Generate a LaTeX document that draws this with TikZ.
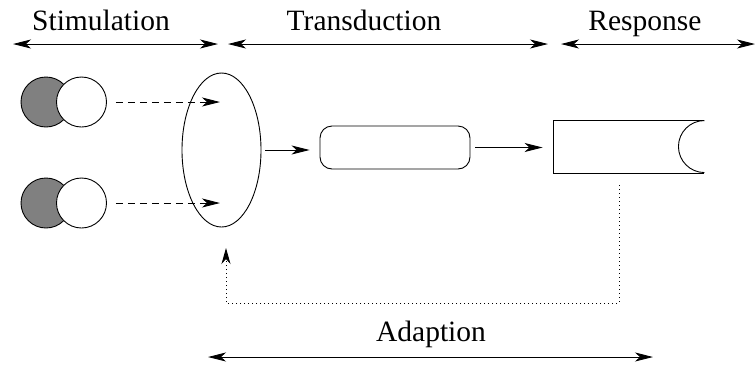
\documentclass[tikz,border=0pt]{standalone}
\usepackage{fontspec}
\setmainfont{Liberation Serif}
\newfontfamily\headfont{Liberation Serif}
\usetikzlibrary{shapes.geometric,arrows.meta}
\begin{document}
\begin{tikzpicture}[x=1pt,y=-1pt,
  line width=0.9pt,
  head/.style={Stealth[length=18pt,width=9pt,inset=5pt]},
  span/.style={{Stealth[length=18pt,width=9pt,inset=5pt]}-{Stealth[length=18pt,width=9pt,inset=5pt]}},
  label/.style={font=\headfont\fontsize{29.5}{34}\selectfont,anchor=base,inner sep=0pt},
  ball/.style={circle,draw,minimum size=50pt,inner sep=0pt},
  feed/.style={dash pattern=on 7pt off 5pt,-{Stealth[length=18pt,width=9pt,inset=5pt]}},
  flow/.style={-{Stealth[length=18pt,width=9pt,inset=5pt]}},
  loop/.style={dash pattern=on 1pt off 3pt,-{Stealth[length=16pt,width=9pt,inset=5pt]}}]
\useasboundingbox (0,0) rectangle (756,365);

% section headings with their spans
\node[label] (tstim) at (101,30) {Stimulation};
\node[label] (ttrans) at (364,30) {Transduction};
\node[label] (tresp) at (645,30) {Response};
\node[label] (tadapt) at (431,341) {Adaption};

\coordinate (s1) at (13,44);   \coordinate (s2) at (218,44);
\coordinate (t1) at (228,44);  \coordinate (t2) at (548,44);
\coordinate (r1) at (561,44);  \coordinate (r2) at (755,44);
\coordinate (a1) at (208,357); \coordinate (a2) at (653,357);
\draw[span] (s1) -- (s2);
\draw[span] (t1) -- (t2);
\draw[span] (r1) -- (r2);
\draw[span] (a1) -- (a2);

% stimulus pairs
\node[ball,fill=gray] (g1) at (46,102) {};
\node[ball,fill=white] (w1) at (81.5,102) {};
\node[ball,fill=gray] (g2) at (46,203) {};
\node[ball,fill=white] (w2) at (81.5,203) {};

% receptor, transducer, effector
\node[ellipse,draw,minimum width=79pt,minimum height=154pt,inner sep=0pt] (rec) at (221.5,150) {};
\node[draw,rounded corners=12pt,minimum width=150pt,minimum height=43pt,inner sep=0pt] (trans) at (395,147.5) {};
\node[minimum width=150pt,minimum height=52pt,inner sep=0pt] (resp) at (629,147) {};
\draw (resp.north east) -- (resp.north west) -- (resp.south west) -- (resp.south east);
\draw (resp.north east) arc[start angle=90,end angle=270,radius=26pt];

% stimulus inputs
\coordinate (in1) at (220,102);
\coordinate (in2) at (220,203);
\draw[feed,shorten <=9pt] (w1.east) -- (in1);
\draw[feed,shorten <=9pt] (w2.east) -- (in2);

% signal path
\draw[flow,shorten <=4pt,shorten >=10pt] (rec.east) -- (rec.east -| trans.west);
\draw[flow,shorten <=5pt,shorten >=11pt] (trans.east) -- (trans.east -| resp.west);

% adaptation feedback
\coordinate (fb0) at (619,185);
\coordinate (fb1) at (619,303);
\coordinate (fb2) at (226,303);
\coordinate (fb3) at (226,248);
\draw[loop] (fb0) -- (fb1) -- (fb2) -- (fb3);
\end{tikzpicture}
\end{document}
